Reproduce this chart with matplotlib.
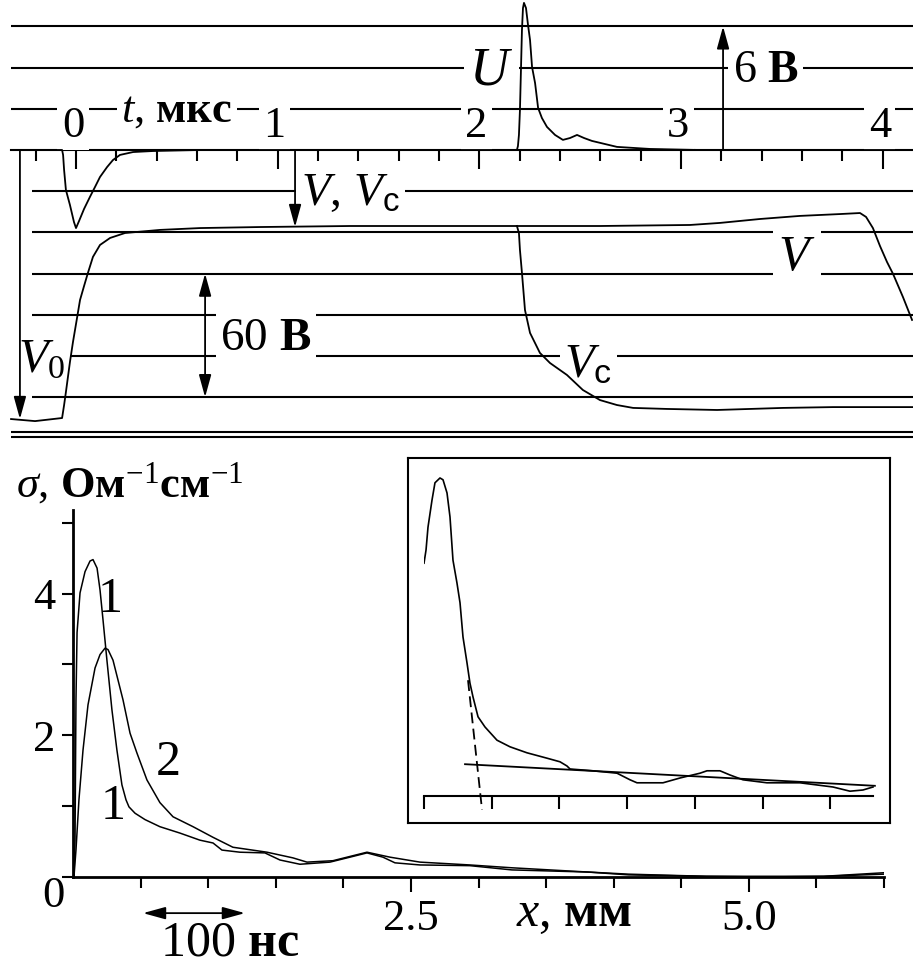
import numpy as np
import matplotlib.pyplot as plt

# шрифты: Times-подобный для текста и формул
plt.rcParams['font.family'] = ['Liberation Serif', 'DejaVu Serif']
plt.rcParams['mathtext.fontset'] = 'custom'
plt.rcParams['mathtext.rm'] = 'Liberation Serif'
plt.rcParams['mathtext.it'] = 'Liberation Serif:italic'
plt.rcParams['mathtext.bf'] = 'Liberation Serif:bold'
plt.rcParams['mathtext.sf'] = 'Liberation Sans'

# 1. Осциллограммы (верх): t в мкс, U в В, V и Vc в В (вниз)
t_U = [-0.322, -0.069, -0.064, -0.059, -0.050, -0.030, -0.010, 0.000, 0.015, 0.040,
       0.069, 0.094, 0.119, 0.154, 0.183, 0.218, 0.283, 0.382, 0.615, 2.186,
       2.191, 2.196, 2.201, 2.206, 2.211, 2.216, 2.221, 2.231, 2.241, 2.251,
       2.261, 2.276, 2.291, 2.310, 2.335, 2.375, 2.414, 2.449, 2.484, 2.519,
       2.558, 2.682, 2.846, 3.094, 4.150]
U = [0, 0, -0.24, -0.97, -1.94, -2.67, -3.50, -3.79, -3.45, -2.86,
     -2.28, -1.80, -1.31, -0.83, -0.49, -0.24, -0.10, -0.05, 0, 0,
     0.19, 0.73, 1.94, 3.88, 5.83, 6.89, 7.14, 6.89, 6.07, 5.34,
     4.03, 3.25, 2.04, 1.55, 1.12, 0.73, 0.49, 0.58, 0.73, 0.58,
     0.44, 0.15, 0.05, 0, 0]

t_V = [-0.322, -0.203, -0.069, -0.059, -0.050, -0.030, -0.015, 0.005, 0.020, 0.040,
       0.059, 0.084, 0.119, 0.169, 0.243, 0.416, 0.615, 0.912, 1.358, 1.854,
       2.186, 2.598, 3.044, 3.193, 3.391, 3.589, 3.788, 3.887, 3.917, 3.951,
       3.986, 4.021, 4.051, 4.100, 4.145]
V = [130.6, 131.6, 130.1, 123.8, 117.5, 102.9, 93.2, 81.6, 72.8, 66.0,
     59.7, 51.9, 46.1, 42.7, 40.3, 38.8, 37.9, 37.4, 36.9, 36.9,
     36.9, 36.9, 36.4, 35.4, 33.5, 32.0, 31.1, 30.6, 32.5, 37.9,
     46.6, 54.4, 60.2, 71.4, 82.5]

t_Vc = [2.186, 2.196, 2.201, 2.211, 2.226, 2.251, 2.300, 2.350, 2.434, 2.513,
        2.598, 2.682, 2.762, 2.930, 3.178, 3.505, 3.753, 4.150]
Vc = [36.9, 40.3, 48.5, 59.7, 77.7, 88.8, 98.5, 103.4, 109.2, 116.5,
      121.4, 123.8, 125.2, 125.7, 126.2, 125.2, 124.8, 124.8]

t_ticks = [0, 1, 2, 3, 4]
grid_U = [6, 4, 2, -2, -4, -6, -8, -10, -12]

# 2. Проводимость (низ): x в мм, sigma в Ом^-1 см^-1
x1 = [0.007, 0.015, 0.022, 0.030, 0.052, 0.089, 0.126, 0.148, 0.178, 0.200,
      0.222, 0.251, 0.288, 0.325, 0.362, 0.392, 0.414, 0.459, 0.533, 0.643,
      0.791, 0.939, 1.036, 1.102, 1.235, 1.420, 1.531, 1.679, 1.901, 2.049,
      2.175, 2.293, 2.382, 2.567, 2.936, 3.247, 3.809, 4.112, 4.682, 5.118,
      5.555, 5.999]
s1 = [0, 0.52, 2.50, 3.45, 4.01, 4.31, 4.46, 4.48, 4.36, 4.05,
      3.63, 3.06, 2.36, 1.79, 1.30, 1.09, 0.99, 0.90, 0.81, 0.71,
      0.62, 0.52, 0.48, 0.38, 0.35, 0.34, 0.24, 0.18, 0.21, 0.28,
      0.34, 0.28, 0.20, 0.17, 0.16, 0.10, 0.07, 0.03, 0.01, 0.00,
      0.01, 0.04]

x2 = [0.007, 0.022, 0.044, 0.074, 0.111, 0.163, 0.200, 0.237, 0.259, 0.296,
      0.333, 0.370, 0.422, 0.473, 0.547, 0.643, 0.740, 0.888, 1.036, 1.183,
      1.435, 1.627, 1.731, 1.923, 2.175, 2.345, 2.567, 2.936, 3.247, 3.809,
      4.112, 4.682, 5.118, 5.555, 5.999]
s2 = [0, 0.38, 1.09, 1.79, 2.43, 2.95, 3.14, 3.23, 3.21, 3.06,
      2.78, 2.50, 2.03, 1.75, 1.37, 1.05, 0.85, 0.71, 0.56, 0.42,
      0.35, 0.27, 0.21, 0.23, 0.35, 0.28, 0.21, 0.17, 0.13, 0.07,
      0.04, 0.01, 0.01, 0.01, 0.06]

# вставка (отн. единицы)
xi = [0.000, 0.030, 0.059, 0.118, 0.162, 0.236, 0.281, 0.340, 0.384, 0.428,
      0.487, 0.532, 0.576, 0.635, 0.679, 0.724, 0.798, 0.901, 1.078, 1.270,
      1.521, 1.817, 2.009, 2.112, 2.157, 2.496, 2.851, 3.043, 3.146, 3.530,
      3.781, 4.077, 4.180, 4.372, 4.520, 4.712, 5.066, 5.554, 6.041, 6.292,
      6.484, 6.632]
si = [3.88, 4.10, 4.48, 4.93, 5.22, 5.30, 5.27, 5.05, 4.65, 3.93,
      3.55, 3.22, 2.65, 2.22, 1.88, 1.65, 1.32, 1.15, 0.93, 0.82,
      0.72, 0.63, 0.57, 0.50, 0.45, 0.42, 0.38, 0.27, 0.22, 0.22,
      0.30, 0.38, 0.42, 0.42, 0.35, 0.27, 0.22, 0.22, 0.15, 0.08,
      0.10, 0.15]
fit_x = [0.606, 6.66]
fit_y = [0.53, 0.17]
tang_x = [0.650, 0.857]
tang_y = [1.93, -0.23]

W, H = 913, 968


def px_rect(x0, y0, x1, y1):
    # прямоугольник в пикселях картинки -> координаты фигуры
    return [x0 / W, 1 - y1 / H, (x1 - x0) / W, (y1 - y0) / H]


box = dict(facecolor='white', edgecolor='none', boxstyle='square,pad=0.1')
arr = dict(arrowstyle='-|>,head_length=0.8,head_width=0.22', color='k', lw=1.3,
           shrinkA=0, shrinkB=0, mutation_scale=17)
arr2 = dict(arr, arrowstyle='<|-|>,head_length=0.8,head_width=0.22')

fig = plt.figure(figsize=(9.13, 9.68), dpi=100)

# ---------------- верхняя панель ----------------
ax = fig.add_axes(px_rect(0, 0, 913, 445))
ax.set_xlim(-0.3768, 4.1497)
ax.set_ylim(-14.32, 7.28)
ax.hlines(grid_U[:3], -0.32, 4.15, color='k', lw=1.5, zorder=1)
ax.hlines(grid_U[3:], -0.22, 4.15, color='k', lw=1.5, zorder=1)
ax.hlines([-13.69, -13.93], -0.32, 4.15, color='k', lw=1.5, zorder=1)

for s in ['left', 'right', 'top']:
    ax.spines[s].set_visible(False)
ax.spines['bottom'].set_position(('data', 0))
ax.spines['bottom'].set_bounds(-0.32, 4.15)
ax.spines['bottom'].set_linewidth(1.5)
ax.set_yticks([])
ax.set_xticks(t_ticks)
ax.set_xticks(np.round(np.arange(-0.2, 4.05, 0.2), 2), minor=True)
ax.tick_params(axis='x', which='major', length=14, width=1.5, direction='out',
               labelbottom=False)
ax.tick_params(axis='x', which='minor', length=8, width=1.5, direction='out')

ax.plot(t_U, U, 'k-', lw=1.3, zorder=4)

for k in t_ticks:
    ax.text(k - 0.015, 0.63, str(k), ha='center', va='baseline', fontsize=32,
            bbox=box, zorder=3)
ax.text(0.50, 1.37, r'$t$, $\mathbf{мкс}$', ha='center', va='baseline',
        fontsize=32, bbox=box, zorder=3)
ax.text(2.06, 3.17, r'$U$', ha='center', va='baseline', fontsize=39,
        bbox=box, zorder=3)
ax.text(3.42, 3.32, r'6 $\mathbf{В}$', ha='center', va='baseline', fontsize=33,
        bbox=box, zorder=3)
ax.text(1.36, -2.67, r'$V$, $V_\mathsf{c}$', ha='center', va='baseline',
        fontsize=34, bbox=box, zorder=3)
ax.text(3.575, -5.83, r'$V$', ha='center', va='baseline', fontsize=36,
        bbox=box, zorder=3)
ax.text(2.54, -11.02, r'$V_\mathsf{c}$', ha='center', va='baseline',
        fontsize=35, bbox=box, zorder=3)
ax.text(-0.169, -10.78, r'$V_0$', ha='center', va='baseline', fontsize=35,
        bbox=box, zorder=3)
ax.text(0.942, -9.71, r'60 $\mathbf{В}$', ha='center', va='baseline',
        fontsize=34, bbox=box, zorder=3)
ax.annotate('', xy=(3.208, 6), xytext=(3.208, 0), arrowprops=arr)

# V и Vc на своей шкале (вниз, 20 В на деление)
ax_v = ax.twinx()
ax_v.set_ylim(143.2, -72.8)
ax_v.axis('off')
ax_v.plot(t_V, V, 'k-', lw=1.3)
ax_v.plot(t_Vc, Vc, 'k-', lw=1.3)
ax_v.annotate('', xy=(-0.278, 130.6), xytext=(-0.278, 0), arrowprops=arr)
ax_v.annotate('', xy=(1.086, 37.4), xytext=(1.086, 0), arrowprops=arr)
ax_v.annotate('', xy=(0.64, 120), xytext=(0.64, 60), arrowprops=arr2)

# ---------------- нижняя панель ----------------
ax2 = fig.add_axes(px_rect(73, 510, 884, 877))
ax2.set_xlim(0, 6.0)
ax2.set_ylim(0, 5.18)
ax2.spines['top'].set_visible(False)
ax2.spines['right'].set_visible(False)
ax2.spines['left'].set_linewidth(2)
ax2.spines['bottom'].set_linewidth(2)
ax2.set_yticks([0, 1, 2, 3, 4, 5])
ax2.set_yticklabels(['', '', '2', '', '4', ''])
ax2.set_xticks([2.5, 5.0])
ax2.set_xticklabels(['2.5', '5.0'])
ax2.set_xticks([0.5, 1, 1.5, 2, 3, 3.5, 4, 4.5, 5.5, 6], minor=True)
ax2.tick_params(axis='y', length=8, width=1.5, direction='out', pad=5,
                labelsize=32)
ax2.tick_params(axis='x', which='major', length=11, width=1.5, direction='out',
                pad=5, labelsize=32)
ax2.tick_params(axis='x', which='minor', length=8, width=1.5, direction='out')

ax2.plot(x1, s1, 'k-', lw=1.1)
ax2.plot(x2, s2, 'k-', lw=1.1)

ax2.text(-0.148, -0.27, '0', ha='center', va='center', fontsize=32)
ax2.text(0.274, 3.91, '1', ha='center', va='center', fontsize=36)
ax2.text(0.703, 1.61, '2', ha='center', va='center', fontsize=36)
ax2.text(0.296, 0.99, '1', ha='center', va='center', fontsize=36)
ax2.text(0.42, 5.37, r'$\sigma$, $\mathbf{Ом}^{-1}\mathbf{см}^{-1}$',
         ha='center', va='baseline', fontsize=32)
ax2.text(3.71, -0.69, r'$x$, $\mathbf{мм}$', ha='center', va='baseline',
         fontsize=36)
ax2.annotate('', xy=(1.272, -0.51), xytext=(0.518, -0.51), arrowprops=arr2,
             annotation_clip=False)
ax2.text(1.161, -1.265, r'100 $\mathbf{нс}$', ha='center', va='bottom',
         fontsize=36)

# ---------------- вставка ----------------
axb = fig.add_axes(px_rect(408, 458, 890, 823))
axb.set_xticks([])
axb.set_yticks([])
for s in axb.spines.values():
    s.set_linewidth(1.5)

axi = fig.add_axes(px_rect(424, 458, 424 + 6.7 * 67.7, 823))
axi.set_xlim(0, 6.7)
axi.set_ylim(-0.45, 5.633)
axi.patch.set_visible(False)
for s in ['left', 'right', 'top']:
    axi.spines[s].set_visible(False)
axi.spines['bottom'].set_position(('data', 0))
axi.spines['bottom'].set_bounds(0, 6.63)
axi.spines['bottom'].set_linewidth(1.5)
axi.set_yticks([])
axi.set_xticks(range(7))
axi.tick_params(axis='x', length=9, width=1.5, direction='out',
                labelbottom=False)
axi.plot(xi, si, 'k-', lw=1.2)
axi.plot(fit_x, fit_y, 'k-', lw=1.3, clip_on=False)
axi.plot(tang_x, tang_y, 'k--', lw=1.3, dashes=(6, 3))

plt.savefig('out.png', dpi=100)
